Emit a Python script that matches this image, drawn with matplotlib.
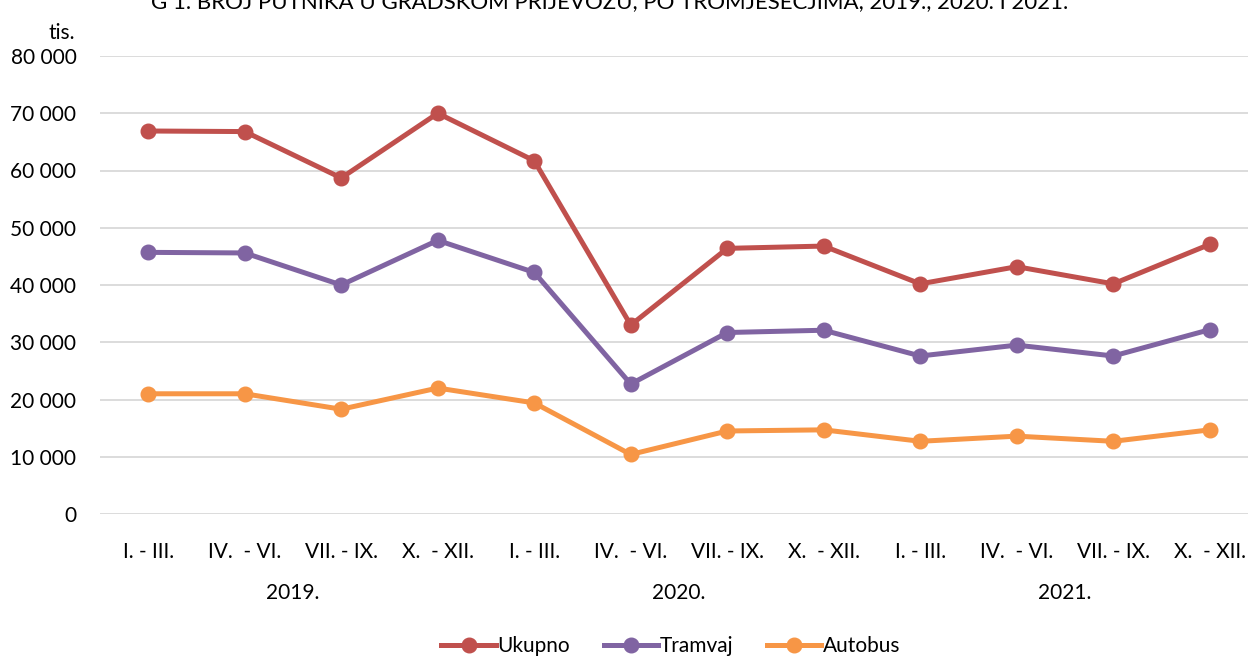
import matplotlib.pyplot as plt
from matplotlib.ticker import FuncFormatter

quarters = ['I. - III.', 'IV.  - VI.', 'VII. - IX.', 'X.  - XII.'] * 3
years = ['2019.', '2020.', '2021.']
ukupno = [66900, 66800, 58700, 70000, 61700, 33000, 46400, 46800, 40200, 43200, 40200, 47100]
tramvaj = [45700, 45600, 40000, 47800, 42200, 22700, 31700, 32100, 27600, 29500, 27600, 32200]
autobus = [21000, 21000, 18300, 22000, 19400, 10400, 14500, 14700, 12700, 13600, 12700, 14700]

plt.rcParams['font.family'] = ['Lato', 'DejaVu Sans']

fig = plt.figure(figsize=(12.48, 6.58), dpi=100)
ax = fig.add_axes([100 / 1248, 144 / 658, 1158 / 1248, 458 / 658])

x = range(len(quarters))
series = [('Ukupno', ukupno, '#C0504D'),
          ('Tramvaj', tramvaj, '#8064A2'),
          ('Autobus', autobus, '#F79646')]
for name, vals, col in series:
    ax.plot(x, vals, color=col, lw=3.6, marker='o', ms=10.5, label=name)

ax.set_xlim(-0.5, 11.5)
ax.set_ylim(0, 80000)
ax.set_yticks(range(0, 80001, 10000))
ax.yaxis.set_major_formatter(FuncFormatter(lambda v, p: '{:,.0f}'.format(v).replace(',', ' ')))
ax.grid(axis='y', color='#d9d9d9', lw=1.3)
ax.set_axisbelow(True)
for s in ax.spines.values():
    s.set_visible(False)
ax.tick_params(axis='y', length=0, labelsize=15, pad=17)
ax.tick_params(axis='x', length=0, labelsize=15, pad=20)
ax.set_xticks(list(x))
ax.set_xticklabels(quarters)

for i, y in enumerate(years):
    ax.text(i * 4 + 1.5, -0.172, y, transform=ax.get_xaxis_transform(),
            ha='center', va='center', fontsize=15)

fig.text(62 / 1248, 1 - 33 / 658, 'tis.', ha='center', va='center', fontsize=15)
fig.text(610 / 1248, 1 - 2 / 658,
         'G 1. BROJ PUTNIKA U GRADSKOM PRIJEVOZU, PO TROMJESEČJIMA, 2019., 2020. I 2021.',
         ha='center', va='center', fontsize=16)

ax.legend(loc='center', bbox_to_anchor=(671 / 1248, 12 / 658), bbox_transform=fig.transFigure,
          ncol=3, frameon=False, fontsize=15, handlelength=2.6, handletextpad=0.1,
          columnspacing=1.6)

fig.savefig('out.png', dpi=100)
